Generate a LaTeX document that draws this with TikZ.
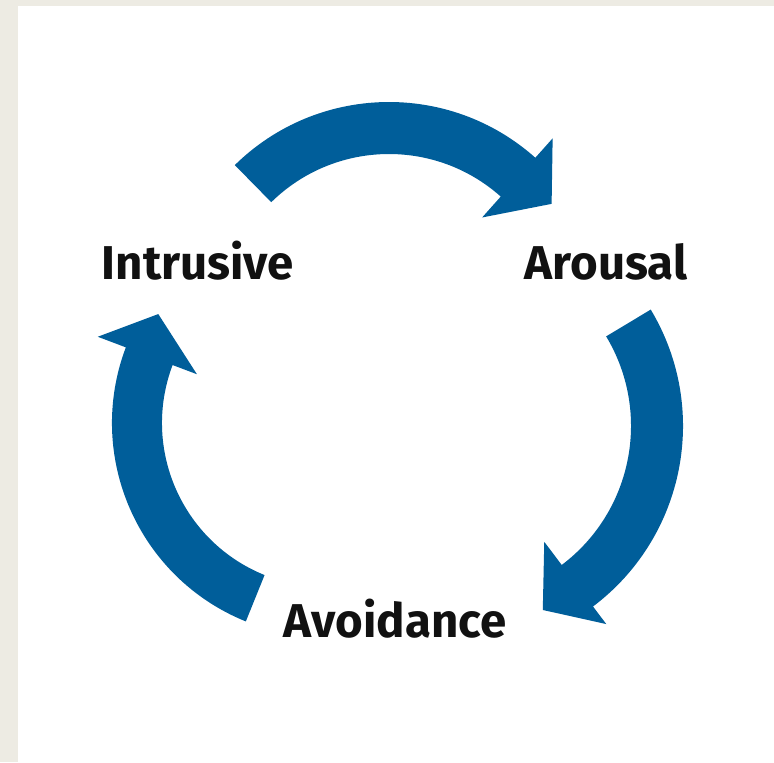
\documentclass[tikz,border=0pt]{standalone}
\usepackage{fontspec}
\setmainfont{Fira Sans}
\usepackage{xcolor}
\usepackage{tikz}
\definecolor{cycleblue}{RGB}{0,94,154}
\definecolor{pagebeige}{RGB}{237,235,227}
\definecolor{labblack}{RGB}{17,17,17}

\begin{document}
\begin{tikzpicture}[x=0.02cm, y=0.02cm,
      lab/.style={font=\fontsize{27}{32}\selectfont\bfseries, text=labblack, anchor=base, inner sep=0pt},
      arr/.style={fill=cycleblue}]
    % page
    \fill[pagebeige] (0,0) rectangle (774,762);
    \fill[white] (18,0) rectangle (774,756);
    % centres of the three arcs
    \coordinate (ctop) at (389,440);
    \coordinate (cright) at (457,336);
    \coordinate (cleft) at (326,339);
    % labels
    \node[lab] (intrusive) at (198,483) {Intrusive};
    \node[lab] (arousal) at (606,483) {Arousal};
    \node[lab] (avoidance) at (395,125) {Avoidance};
    % intrusive -> arousal
    \begin{scope}[shift={(ctop)}]
      \fill[arr] (134.5:220) arc[start angle=134.5, end angle=48.3, radius=220] -- (48.3:246) -- (36:201)
        -- (48.3:140) -- (48.3:168) arc[start angle=48.3, end angle=134.5, radius=168] -- cycle;
    \end{scope}
    % arousal -> avoidance
    \begin{scope}[shift={(cright)}]
      \fill[arr] (31:226) arc[start angle=31, end angle=-53, radius=226] -- (-53:248) -- (-65:203)
        -- (-53:145) -- (-53:174) arc[start angle=-53, end angle=31, radius=174] -- cycle;
    \end{scope}
    % avoidance -> intrusive
    \begin{scope}[shift={(cleft)}]
      \fill[arr] (248:214) arc[start angle=248, end angle=159.3, radius=214] -- (159.3:244) -- (147:200)
        -- (159.3:138) -- (159.3:164) arc[start angle=159.3, end angle=248, radius=164] -- cycle;
    \end{scope}
  \end{tikzpicture}
\end{document}
